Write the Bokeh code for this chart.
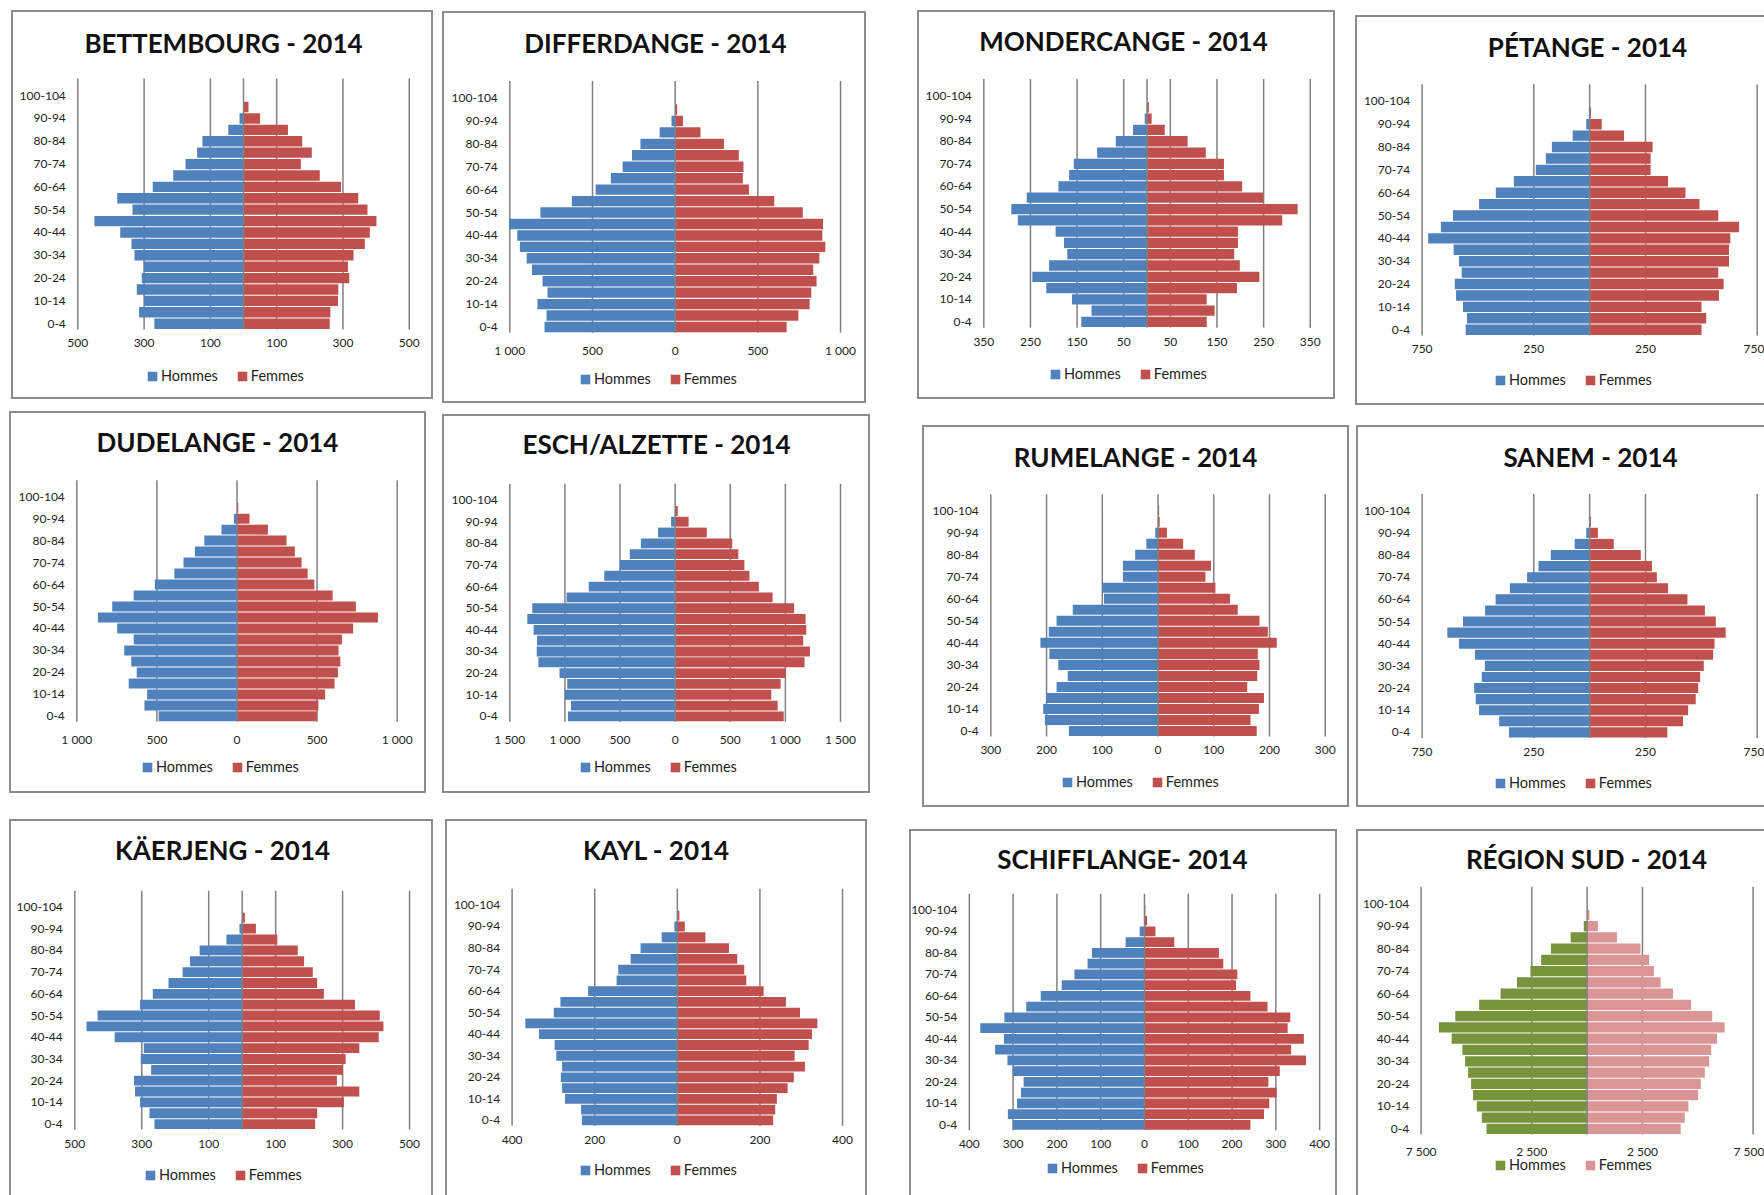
from bokeh.plotting import figure
from bokeh.models import Range1d, FixedTicker, Label, Legend, LegendItem, Spacer
from bokeh.layouts import row, column
from bokeh.embed import file_html
from bokeh.resources import INLINE

# ---------------- data ----------------
age_groups = ["0-4", "5-9", "10-14", "15-19", "20-24", "25-29", "30-34", "35-39",
              "40-44", "45-49", "50-54", "55-59", "60-64", "65-69", "70-74", "75-79",
              "80-84", "85-89", "90-94", "95-99", "100-104"]
sexes = ["Hommes", "Femmes"]

bettembourg_hommes = [269, 315, 300, 322, 307, 301, 329, 338, 372, 450, 335, 381, 274, 212, 175, 140, 124, 46, 12, 0, 0]
bettembourg_femmes = [260, 262, 285, 286, 319, 315, 332, 366, 381, 401, 374, 346, 294, 230, 173, 206, 177, 134, 50, 15, 0]
bettembourg_ticks = [-500, -300, -100, 100, 300, 500]

differdange_hommes = [790, 778, 833, 772, 802, 866, 898, 939, 955, 1004, 815, 625, 481, 389, 318, 261, 210, 94, 22, 0, 0]
differdange_femmes = [674, 745, 813, 823, 855, 835, 872, 908, 890, 894, 772, 599, 446, 409, 413, 385, 295, 153, 47, 12, 0]
differdange_ticks = [-1000, -500, 0, 500, 1000]

mondercange_hommes = [141, 119, 161, 216, 246, 210, 171, 178, 196, 277, 291, 258, 190, 167, 157, 107, 67, 30, 5, 0, 0]
mondercange_femmes = [128, 145, 128, 193, 241, 199, 187, 195, 195, 290, 323, 249, 204, 165, 165, 126, 87, 38, 10, 4, 0]
mondercange_ticks = [-350, -250, -150, -50, 50, 150, 250, 350]

petange_hommes = [555, 549, 567, 598, 604, 573, 585, 609, 723, 666, 612, 495, 420, 339, 241, 196, 169, 76, 15, 0, 0]
petange_femmes = [501, 522, 501, 579, 600, 576, 624, 624, 630, 669, 576, 492, 429, 351, 273, 273, 282, 154, 54, 6, 0]
petange_ticks = [-750, -250, 250, 750]

dudelange_hommes = [489, 578, 561, 676, 626, 660, 704, 645, 748, 868, 779, 645, 513, 391, 334, 263, 204, 97, 19, 0, 0]
dudelange_femmes = [498, 508, 550, 609, 630, 645, 634, 655, 725, 880, 742, 597, 483, 441, 403, 361, 309, 193, 78, 8, 0]
dudelange_ticks = [-1000, -500, 0, 500, 1000]

esch_hommes = [973, 945, 1000, 979, 1049, 1241, 1256, 1253, 1284, 1341, 1296, 985, 784, 643, 503, 412, 311, 155, 37, 0, 0]
esch_femmes = [985, 930, 872, 957, 1003, 1174, 1223, 1162, 1189, 1183, 1079, 884, 759, 674, 628, 573, 518, 287, 122, 24, 0]
esch_ticks = [-1500, -1000, -500, 0, 500, 1000, 1500]

rumelange_hommes = [160, 203, 206, 201, 182, 162, 179, 195, 211, 196, 182, 153, 97, 100, 63, 63, 41, 21, 5, 0, 0]
rumelange_femmes = [177, 166, 181, 190, 160, 178, 182, 179, 213, 197, 182, 143, 129, 103, 85, 95, 66, 45, 16, 3, 2]
rumelange_ticks = [-300, -200, -100, 0, 100, 200, 300]

sanem_hommes = [361, 405, 495, 510, 517, 483, 469, 513, 585, 637, 567, 468, 421, 357, 280, 229, 174, 67, 15, 0, 0]
sanem_femmes = [348, 418, 441, 475, 486, 495, 511, 553, 559, 609, 565, 516, 438, 351, 301, 279, 229, 108, 37, 6, 0]
sanem_ticks = [-750, -250, 250, 750]

kaerjeng_hommes = [262, 277, 305, 320, 323, 272, 303, 294, 381, 465, 432, 305, 267, 220, 178, 156, 127, 47, 8, 0, 0]
kaerjeng_femmes = [218, 224, 304, 350, 283, 301, 309, 350, 408, 422, 411, 337, 244, 224, 211, 185, 166, 105, 41, 8, 0]
kaerjeng_ticks = [-500, -300, -100, 100, 300, 500]

kayl_hommes = [231, 233, 272, 279, 282, 279, 293, 297, 335, 368, 299, 283, 216, 147, 143, 113, 89, 38, 7, 0, 0]
kayl_femmes = [232, 237, 241, 267, 282, 309, 284, 318, 326, 339, 297, 263, 209, 167, 162, 145, 125, 68, 18, 5, 0]
kayl_ticks = [-400, -200, 0, 200, 400]

schifflange_hommes = [301, 312, 291, 282, 276, 301, 313, 341, 321, 375, 320, 270, 237, 189, 160, 130, 120, 43, 11, 0, 0]
schifflange_femmes = [242, 273, 285, 302, 283, 309, 369, 335, 364, 327, 333, 281, 242, 209, 212, 180, 170, 68, 25, 6, 2]
schifflange_ticks = [-400, -300, -200, -100, 0, 100, 200, 300, 400]

sud_hommes = [4545, 4758, 4985, 5152, 5242, 5379, 5515, 5636, 6121, 6697, 5955, 4879, 3909, 3167, 2561, 2076, 1636, 742, 152, 0, 0]
sud_femmes = [4227, 4409, 4576, 5015, 5136, 5318, 5515, 5606, 5864, 6212, 5652, 4697, 3879, 3318, 3015, 2803, 2409, 1348, 485, 106, 0]
sud_ticks = [-7500, -2500, 2500, 7500]

titles = ["BETTEMBOURG - 2014", "DIFFERDANGE - 2014", "MONDERCANGE - 2014", "PÉTANGE - 2014",
          "DUDELANGE - 2014", "ESCH/ALZETTE - 2014", "RUMELANGE - 2014", "SANEM - 2014",
          "KÄERJENG - 2014", "KAYL - 2014", "SCHIFFLANGE- 2014", "RÉGION SUD - 2014"]

# ---------------- style ----------------
FONT = "Lato"
BLUE, RED = "#4F81BD", "#C0504D"
GREEN, PINK = "#77933C", "#D99694"
GRID = "#808080"
TXT = "#1e1e1e"
BORDER = "#8c8c8c"
BW = 2
PAGE_W, PAGE_H = 1764, 1195

series = [
    (bettembourg_hommes, bettembourg_femmes, bettembourg_ticks, BLUE, RED),
    (differdange_hommes, differdange_femmes, differdange_ticks, BLUE, RED),
    (mondercange_hommes, mondercange_femmes, mondercange_ticks, BLUE, RED),
    (petange_hommes, petange_femmes, petange_ticks, BLUE, RED),
    (dudelange_hommes, dudelange_femmes, dudelange_ticks, BLUE, RED),
    (esch_hommes, esch_femmes, esch_ticks, BLUE, RED),
    (rumelange_hommes, rumelange_femmes, rumelange_ticks, BLUE, RED),
    (sanem_hommes, sanem_femmes, sanem_ticks, BLUE, RED),
    (kaerjeng_hommes, kaerjeng_femmes, kaerjeng_ticks, BLUE, RED),
    (kayl_hommes, kayl_femmes, kayl_ticks, BLUE, RED),
    (schifflange_hommes, schifflange_femmes, schifflange_ticks, BLUE, RED),
    (sud_hommes, sud_femmes, sud_ticks, GREEN, PINK),
]

# page geometry: box (x0,y0,x1,y1), plot-area x (left,right), y of "0-4" and "100-104" labels,
# title centre, legend centre
geom = [
    dict(box=(11, 10, 433, 399), fx=(76.7, 405.0), ylab=(320.0, 94.3), t=(223, 43), lg=(225, 376)),
    dict(box=(442, 11, 866, 403), fx=(508.7, 836.3), ylab=(323.3, 96.7), t=(655, 43), lg=(658, 379)),
    dict(box=(917, 10, 1335, 399), fx=(982.7, 1306.0), ylab=(318.3, 94.7), t=(1123, 41), lg=(1128, 374)),
    dict(box=(1355, 15, 1764, 405), fx=(1421.3, 1754.7), ylab=(326.0, 100.0), t=(1587, 47), lg=(1573, 380)),
    dict(box=(9, 411, 426, 793), fx=(75.7, 393.0), ylab=(712.7, 495.3), t=(217, 442), lg=(220, 767)),
    dict(box=(442, 414, 870, 793), fx=(508.7, 836.3), ylab=(712.7, 498.7), t=(656, 444), lg=(658, 767)),
    dict(box=(922, 425, 1349, 807), fx=(989.7, 1321.0), ylab=(727.3, 509.3), t=(1135, 457), lg=(1140, 782)),
    dict(box=(1356, 425, 1764, 807), fx=(1421.3, 1754.7), ylab=(728.7, 509.3), t=(1590, 457), lg=(1573, 783)),
    dict(box=(9, 819, 433, 1195), fx=(73.7, 405.3), ylab=(1122.0, 906.0), t=(222, 852), lg=(223, 1177)),
    dict(box=(445, 819, 867, 1195), fx=(511.0, 838.3), ylab=(1118.3, 904.0), t=(656, 852), lg=(658, 1172)),
    dict(box=(909, 829, 1337, 1195), fx=(968.3, 1315.3), ylab=(1122.7, 909.0), t=(1122, 861), lg=(1125, 1170)),
    dict(box=(1356, 829, 1764, 1195), fx=(1420.3, 1750.7), ylab=(1126.7, 902.7), t=(1586, 861), lg=(1573, 1167)),
]
TITLE_DY = -5
LEGEND_DY = -6
LEGEND_W = 158


def fmt(v):
    return f"{abs(v):,}".replace(",", " ")


def make_panel(i):
    hommes, femmes, ticks, c1, c2 = series[i]
    g = geom[i]
    bx0, by0, bx1, by1 = g["box"]
    bl, bt = BW, BW
    br = 0 if bx1 >= PAGE_W else BW
    bb = 0 if by1 >= PAGE_H else BW
    cx0, cy0, cx1, cy1 = bx0 + bl, by0 + bt, bx1 - br, by1 - bb   # canvas (= frame) on the page
    W, H = cx1 - cx0, cy1 - cy0
    n = len(age_groups)
    y0, y100 = g["ylab"]
    s = (y0 - y100) / (n - 1)          # px per age group
    ftop = y100 - 1.5 * s
    fbot = y0 + 0.5 * s
    fx0, fx1 = g["fx"]
    xmax = max(abs(t) for t in ticks)
    k = 2.0 * xmax / (fx1 - fx0)       # data units per px
    xr = Range1d(-xmax - (fx0 - cx0) * k, xmax + (cx1 - fx1) * k)
    ylo, yhi = -0.5, n + 0.5
    yr = Range1d(ylo - (cy1 - fbot) / s, yhi + (ftop - cy0) / s)

    border = f"{BW}px solid {BORDER}"
    styles = {"box-sizing": "content-box", "border-left": border, "border-top": border}
    if br:
        styles["border-right"] = border
    if bb:
        styles["border-bottom"] = border

    p = figure(width=W, height=H, x_range=xr, y_range=yr,
               output_backend="svg", toolbar_location=None, title_location=None,
               min_border=0, styles=styles)
    p.outline_line_color = None
    p.background_fill_color = "white"
    p.border_fill_color = "white"
    p.xgrid.visible = False
    p.ygrid.visible = False

    # gridlines of the value axis, limited to the plot area
    gt = [t for t in ticks if t != 0]
    p.segment(x0=gt, y0=ylo, x1=gt, y1=yhi, line_color=GRID, line_width=1.5)

    idx = list(range(n))
    rm = p.hbar(y=idx, left=[-v for v in hommes], right=0, height=0.91,
                fill_color=c1, line_color=None)
    rf = p.hbar(y=idx, left=0, right=femmes, height=0.91,
                fill_color=c2, line_color=None)
    # category axis line at 0
    p.segment(x0=[0], y0=ylo, x1=[0], y1=yhi, line_color=GRID, line_width=1.5)

    # axes (fixed inside the plot)
    p.yaxis.fixed_location = -xmax
    p.xaxis.fixed_location = ylo
    p.yaxis.ticker = FixedTicker(ticks=list(range(0, n, 2)))
    p.yaxis.major_label_overrides = {j: age_groups[j] for j in range(0, n, 2)}
    p.xaxis.ticker = FixedTicker(ticks=ticks)
    p.xaxis.major_label_overrides = {t: fmt(t) for t in ticks}
    for ax in (p.xaxis, p.yaxis):
        ax.axis_line_color = None
        ax.major_tick_line_color = None
        ax.minor_tick_line_color = None
        ax.major_tick_out = 0
        ax.major_tick_in = 0
        ax.major_label_text_font = FONT
        ax.major_label_text_font_size = "12px"
        ax.major_label_text_color = TXT
    p.yaxis.major_label_standoff = 12
    p.xaxis.major_label_standoff = 10

    # title
    tx, ty = g["t"]
    p.add_layout(Label(x=tx - cx0, y=cy1 - (ty + TITLE_DY), x_units="screen", y_units="screen",
                       text=titles[i], text_align="center", text_baseline="middle",
                       text_font=FONT, text_font_style="bold",
                       text_font_size="26px", text_color="#111111"))

    # legend
    lcx, lcy = g["lg"]
    leg = Legend(items=[LegendItem(label=sexes[0], renderers=[rm]),
                        LegendItem(label=sexes[1], renderers=[rf])],
                 orientation="horizontal",
                 location=(lcx - LEGEND_W / 2 - cx0, cy1 - (lcy + LEGEND_DY) - 10),
                 label_text_font=FONT, label_text_font_size="14.5px", label_text_color=TXT,
                 glyph_width=12, glyph_height=12, label_standoff=3, spacing=18,
                 padding=0, margin=0, border_line_color=None, background_fill_alpha=0)
    p.add_layout(leg)
    return p


panels = [make_panel(i) for i in range(12)]

col_lefts = [0, 440, 900, 1352]
col_rights = [440, 900, 1352, PAGE_W]
cols = []
for c in range(4):
    children = []
    cur = 0
    cw = col_rights[c] - col_lefts[c]
    for r in range(3):
        i = r * 4 + c
        bx0, by0, bx1, by1 = geom[i]["box"]
        gap = by0 - cur
        if gap > 0:
            children.append(Spacer(width=cw, height=gap))
        items = []
        if bx0 - col_lefts[c] > 0:
            items.append(Spacer(width=bx0 - col_lefts[c], height=by1 - by0))
        items.append(panels[i])
        if col_rights[c] - bx1 > 0:
            items.append(Spacer(width=col_rights[c] - bx1, height=by1 - by0))
        children.append(row(items))
        cur = by1
    cols.append(column(children))

layout = row(cols)
open("out.html", "w").write(file_html(layout, INLINE))
